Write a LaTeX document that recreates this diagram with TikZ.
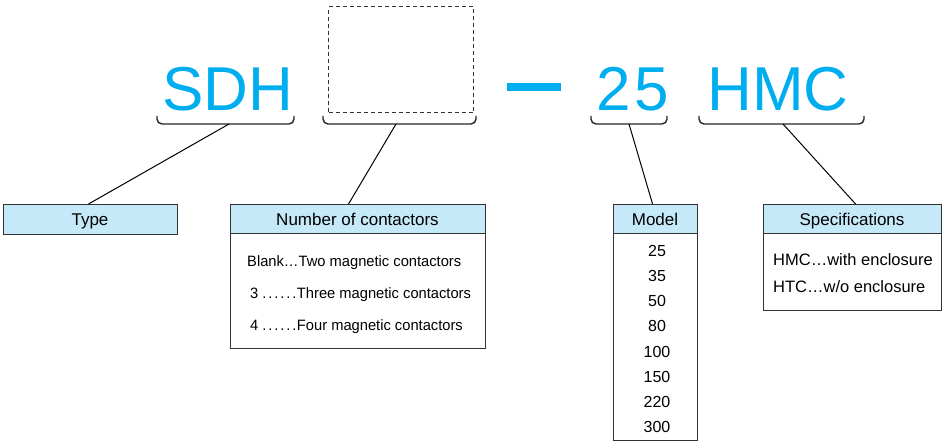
\documentclass[tikz,border=0pt]{standalone}
\usepackage{fontspec}
\setmainfont{Liberation Sans}
\definecolor{sdhblue}{HTML}{00AEEF}
\definecolor{hdrfill}{HTML}{C6E9FA}
\definecolor{edgec}{HTML}{333333}
\newcommand\mydotrow{.\kern1.9pt.\kern1.9pt.\kern1.9pt.\kern1.9pt.\kern1.9pt.\kern0.5pt}
\tikzset{
  big/.style={text=sdhblue, font=\fontsize{62}{62}\selectfont, inner sep=0pt, anchor=base},
  hdr/.style={draw=edgec, fill=hdrfill, line width=1.1pt, inner sep=0pt, anchor=north west},
  hdrtxt/.style={font=\fontsize{17}{19}\selectfont, inner sep=0pt, anchor=base},
  bodybox/.style={draw=edgec, line width=1.1pt, inner sep=0pt, anchor=north west},
  txt/.style={font=\fontsize{15}{18}\selectfont\addfontfeature{FakeStretch=0.98}, inner sep=0pt},
  mtxt/.style={font=\fontsize{16}{18}\selectfont, inner sep=0pt, anchor=base},
  stxt/.style={font=\fontsize{16.5}{18}\selectfont, inner sep=0pt, anchor=base west},
  bracepath/.style={line width=1.4pt, draw=black!85, rounded corners=5pt},
  conn/.style={line width=1pt, draw=black}
}
\begin{document}
\begin{tikzpicture}[x=1pt,y=-1pt]
\useasboundingbox (0,0) rectangle (942,443);
% big letters
\node[big] (sdh) at (228,111) {SDH};
\node[draw=edgec, dashed, dash pattern=on 4pt off 3pt, line width=1.2pt, minimum width=145pt, minimum height=106pt, inner sep=0pt, anchor=north west] (blank) at (328,6) {};
\node[fill=sdhblue, minimum width=54pt, minimum height=8pt, inner sep=0pt] (dash) at (534,87) {};
\node[big] (num) at (632.5,111) {2\hspace{4pt}5};
\node[big] (hmc) at (778,111) {HMC};
% braces
\draw[bracepath] (157,116) -- (157,124) -- (294,124) -- (294,116);
\draw[bracepath] (323,116) -- (323,124) -- (476,124) -- (476,116);
\draw[bracepath] (591,116) -- (591,124) -- (667,124) -- (667,116);
\draw[bracepath] (699,116) -- (699,124) -- (864,124) -- (864,116);
\coordinate (t1) at (229,124);
\coordinate (t2) at (396,124);
\coordinate (t3) at (629,124);
\coordinate (t4) at (783,124);
% header boxes
\node[hdr, minimum width=174pt, minimum height=30pt] (type) at (3,204) {};
\node[hdrtxt] (typet) at (90,226) {Type};
\node[hdr, minimum width=255pt, minimum height=29pt] (nc) at (230,204) {};
\node[hdrtxt] (nct) at (357.5,226) {Number of contactors};
\node[bodybox, minimum width=255pt, minimum height=115pt] (ncb) at (230,233) {};
\node[txt, anchor=base west] (nc1) at (247,267) {Blank…Two magnetic contactors};
\node[txt, anchor=base west] (nc2) at (250,299) {3 \mydotrow Three magnetic contactors};
\node[txt, anchor=base west] (nc3) at (250,331) {4 \mydotrow Four magnetic contactors};
\node[hdr, minimum width=84pt, minimum height=29pt] (md) at (613,204) {};
\node[hdrtxt] (mdt) at (655,226) {Model};
\node[bodybox, minimum width=84pt, minimum height=207pt] (mdb) at (613,233) {};
\foreach \v [count=\i from 0] in {25,35,50,80,100,150,220,300}
  \node[mtxt] (m\i) at (657,257+25*\i) {\v};
\node[hdr, minimum width=178pt, minimum height=29pt] (sp) at (763,204) {};
\node[hdrtxt] (spt) at (852,226) {Specifications};
\node[bodybox, minimum width=178pt, minimum height=77pt] (spb) at (763,233) {};
\node[stxt] (sp1) at (773,266) {HMC…with enclosure};
\node[stxt] (sp2) at (773,293) {HTC…w/o enclosure};
% connectors
\draw[conn] (t1) -- ([xshift=-2pt]type.north);
\draw[conn] (t2) -- ([xshift=-9.5pt]nc.north);
\draw[conn] (t3) -- ([xshift=-3pt]md.north);
\draw[conn] (t4) -- ([xshift=3pt]sp.north);
\end{tikzpicture}
\end{document}
